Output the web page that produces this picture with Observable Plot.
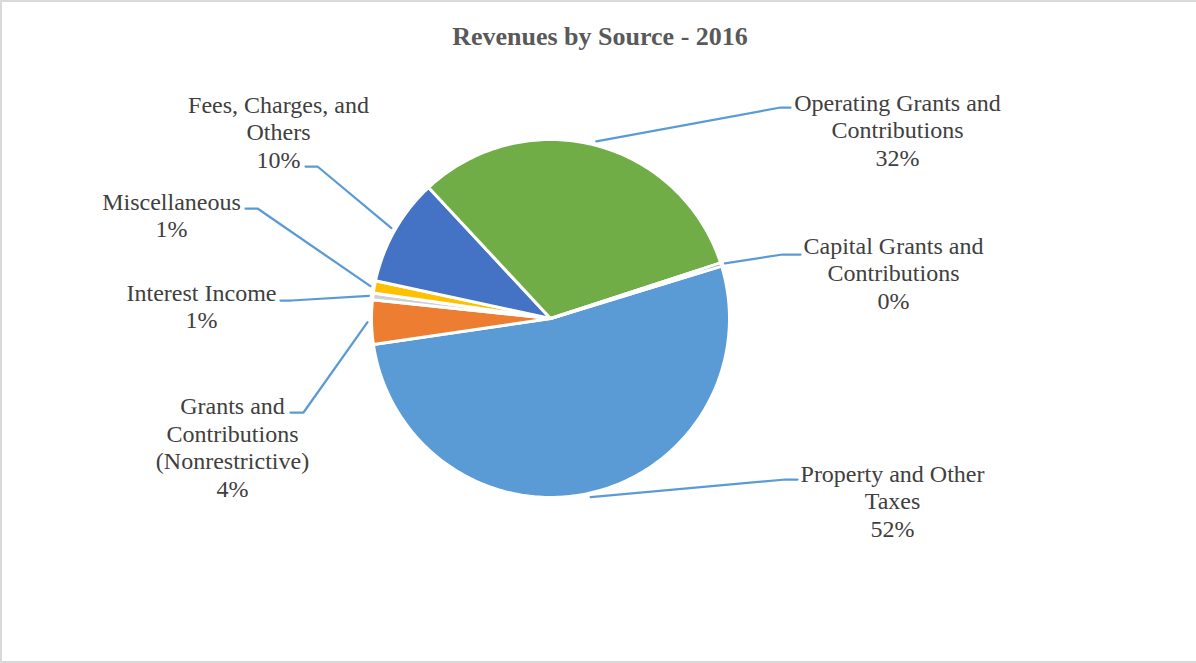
<!DOCTYPE html>
<html>
<head>
<meta charset="utf-8">
<script src="https://cdn.jsdelivr.net/npm/d3@7"></script>
<script src="https://cdn.jsdelivr.net/npm/@observablehq/plot@0.6"></script>
<style>
  html, body { margin: 0; padding: 0; background: #fff; }
  #wrap { position: relative; width: 1196px; height: 663px; box-sizing: border-box;
          border-top: 2px solid #D9D9D9; border-left: 2px solid #D9D9D9; border-bottom: 2px solid #D9D9D9; overflow: hidden; }
  #title { position: absolute; left: 0; top: 20px; width: 1196px; text-align: center; line-height: 30px;
           font-family: "Liberation Serif", "Times New Roman", serif; font-weight: bold; font-size: 26px; color: #595959; }
  #chart { position: absolute; left: -2px; top: -2px; }
</style>
</head>
<body>
<div id="wrap">
  <div id="chart"></div>
  <div id="title">Revenues by Source - 2016</div>
</div>
<script>
// ---- data ----
const categories = [
  "Property and Other Taxes",
  "Grants and Contributions (Nonrestrictive)",
  "Interest Income",
  "Miscellaneous",
  "Fees, Charges, and Others",
  "Operating Grants and Contributions",
  "Capital Grants and Contributions"
];
const shares = [52.4, 4.0, 0.6, 1.1, 9.7, 31.9, 0.3];
const labelLines = [
  ["Property and Other", "Taxes"],
  ["Grants and", "Contributions", "(Nonrestrictive)"],
  ["Interest Income"],
  ["Miscellaneous"],
  ["Fees, Charges, and", "Others"],
  ["Operating Grants and", "Contributions"],
  ["Capital Grants and", "Contributions"]
];
const colors = ["#5B9BD5", "#ED7D31", "#D0D0D0", "#FFC000", "#4472C4", "#70AD47", "#255E91"];

// ---- layout (pixels) ----
const W = 1196, H = 663;
const cx = 550, cy = 318, R = 179;
const startDeg = 73;
const labelPos = [[892, 500], [232, 446], [201, 305], [171, 214], [278, 131], [897, 129], [893, 272]];
const leaderElbow = [[785, 479, 797], [303, 412, 290], [291, 300, 280], [257, 208, 245], [317, 166, 305], [780, 107, 790], [782, 254, 800]];

const total = d3.sum(shares);
const pie = d3.pie().sort(null).value(d => d)
  .startAngle(startDeg * Math.PI / 180).endAngle(startDeg * Math.PI / 180 + 2 * Math.PI)(shares);

const pt = (a, r) => ({x: cx + r * Math.sin(a), y: cy - r * Math.cos(a)});

const marks = [];
pie.forEach((p, i) => {
  const n = Math.max(4, Math.ceil((p.endAngle - p.startAngle) * 180 / Math.PI));
  const pts = [{x: cx, y: cy}];
  for (let k = 0; k <= n; k++) pts.push(pt(p.startAngle + (p.endAngle - p.startAngle) * k / n, R));
  marks.push(Plot.line(pts, {x: "x", y: "y", curve: "linear-closed", fill: colors[i], stroke: "white", strokeWidth: 3, strokeLinejoin: "round"}));
});

pie.forEach((p, i) => {
  const mid = (p.startAngle + p.endAngle) / 2;
  const s = pt(mid, R + 4);
  const [ex, ey, tx] = leaderElbow[i];
  marks.push(Plot.line([s, {x: ex, y: ey}, {x: tx, y: ey}], {x: "x", y: "y", stroke: "#5B9BD5", strokeWidth: 2.25}));
});

const labels = categories.map((c, i) => ({
  name: c,
  x: labelPos[i][0],
  y: labelPos[i][1],
  text: labelLines[i].join("\n") + "\n" + Math.round(shares[i] / total * 100) + "%"
}));
marks.push(Plot.text(labels, {
  x: "x", y: "y", text: "text", textAnchor: "middle", lineAnchor: "middle",
  fontSize: 24, lineHeight: 27.5 / 24, fill: "#404040",
  fontFamily: "Liberation Serif, Times New Roman, serif"
}));

const chart = Plot.plot({
  width: W, height: H,
  margin: 0,
  x: {domain: [0, W], range: [0, W], axis: null},
  y: {domain: [0, H], range: [0, H], axis: null},
  style: {background: "transparent", overflow: "visible"},
  marks
});
document.getElementById("chart").appendChild(chart);
</script>
</body>
</html>
